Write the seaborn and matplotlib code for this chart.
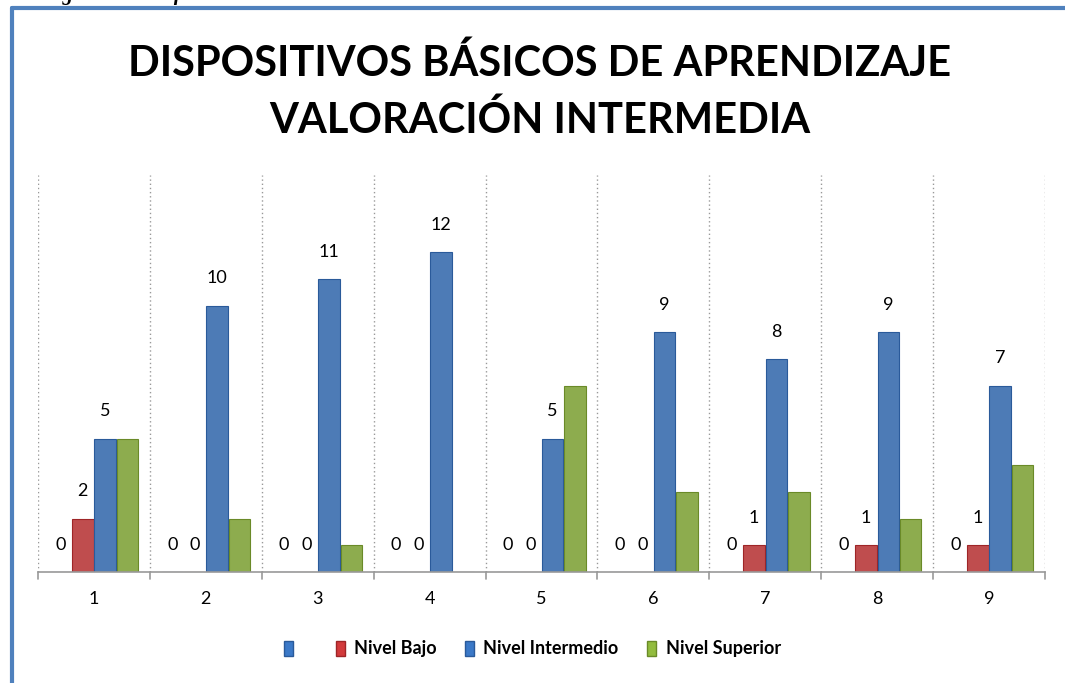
import numpy as np
import pandas as pd
import matplotlib
matplotlib.use("Agg")
import matplotlib.pyplot as plt
import matplotlib.patches as mpatches
from matplotlib.lines import Line2D
import seaborn as sns

# ========================
# DATA
# ========================
categories = ["1", "2", "3", "4", "5", "6", "7", "8", "9"]
series_names = [" ", "Nivel Bajo", "Nivel Intermedio", "Nivel Superior"]
sin_nombre = [0, 0, 0, 0, 0, 0, 0, 0, 0]
nivel_bajo = [2, 0, 0, 0, 0, 0, 1, 1, 1]
nivel_intermedio = [5, 10, 11, 12, 5, 9, 8, 9, 7]
nivel_superior = [5, 2, 1, 0, 7, 3, 3, 2, 4]

title = "DISPOSITIVOS BÁSICOS DE APRENDIZAJE\nVALORACIÓN INTERMEDIA"
caption = "Figura 13. Gráfica resultados valoración intermedia"

colors = ["#3B79C8", "#D23A3B", "#3B79C8", "#92BC3E"]
edges = ["#2A5A9A", "#9E2527", "#2A5A9A", "#6A8A28"]

# ========================
# FRAME
# ========================
sns.set_style("white")
plt.rcParams["font.family"] = ["Lato", "DejaVu Sans"]
plt.rcParams["text.color"] = "black"
plt.rcParams["xtick.color"] = "black"

df = pd.DataFrame({
    "cat": categories * 4,
    "serie": np.repeat(series_names, len(categories)),
    "valor": sin_nombre + nivel_bajo + nivel_intermedio + nivel_superior,
})

fig = plt.figure(figsize=(10.65, 6.83), dpi=100)
ax = fig.add_axes([0.0357, 0.1625, 0.9455, 0.581])

sns.barplot(data=df, x="cat", y="valor", hue="serie", hue_order=series_names,
            order=categories, palette=colors, width=0.8, gap=0.04,
            legend=False, ax=ax)

for cont, ec in zip(ax.containers, edges):
    for p in cont:
        p.set_edgecolor(ec)
        p.set_linewidth(0.8)

# labels on first three series only
for cont in ax.containers[:3]:
    ax.bar_label(cont, fmt="%d", padding=14, fontsize=13, color="black")

ax.set_ylim(0, 14.9)
ax.set_xlim(-0.5, len(categories) - 0.5)
ax.set_xlabel("")
ax.set_ylabel("")
ax.set_yticks([])
ax.set_xticks(range(len(categories)))
ax.set_xticklabels(categories, fontsize=13)
ax.tick_params(axis="x", length=0, pad=14)

for s in ["top", "right", "left"]:
    ax.spines[s].set_visible(False)
ax.spines["bottom"].set_color("#999999")
ax.spines["bottom"].set_linewidth(1.2)

# dotted category separators and tick marks
for b in np.arange(-0.5, len(categories), 1.0):
    ax.axvline(b, ymin=0, ymax=1, color="#999999", linestyle=(0, (1, 2)), linewidth=1)
    ax.plot([b, b], [0, -0.25], color="#999999", linewidth=1.2, clip_on=False)

# title
fig.text(0.507, 0.866, title, ha="center", va="center", fontsize=30,
         fontweight="bold", linespacing=1.55, color="black")

# legend
handles = [mpatches.Patch(facecolor=c, edgecolor=e) for c, e in zip(colors, edges)]
fig.legend(handles, series_names, loc="center", bbox_to_anchor=(0.5, 0.05),
           ncol=4, frameon=False, handlelength=0.5, handleheight=0.9,
           handletextpad=0.5, columnspacing=1.6,
           prop={"weight": "bold", "size": 13})

# document frame
fig.add_artist(Line2D([0.011, 0.011], [0.0, 0.988], color="#4F81BD", linewidth=3))
fig.add_artist(Line2D([0.011, 1.0], [0.988, 0.988], color="#4F81BD", linewidth=3))
fig.text(0.04, 1.008, caption, ha="left", va="center", fontsize=15,
         fontweight="bold", fontstyle="italic", family="Liberation Serif")

fig.savefig("out.png", dpi=100)
